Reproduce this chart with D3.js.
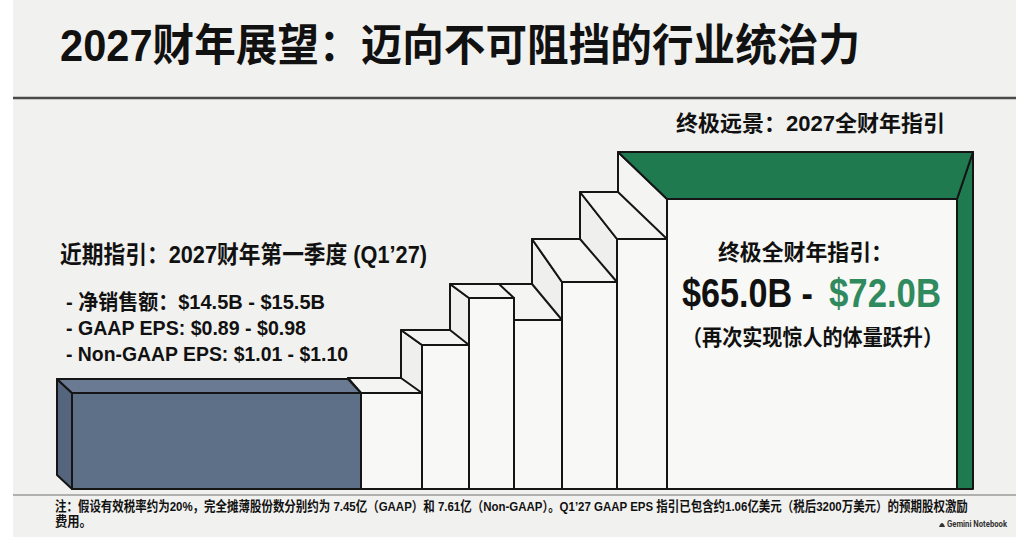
<!DOCTYPE html>
<html>
<head>
<meta charset="utf-8">
<script src="https://cdn.jsdelivr.net/npm/d3@7"></script>
<style>
  html, body { margin: 0; padding: 0; background: #fff; }
  svg { display: block; }
  text { font-family: "Liberation Sans", "Noto Sans CJK SC", sans-serif; font-weight: 700; fill: #111; }
</style>
</head>
<body>
<div id="chart"></div>
<script>
// Step chart data: one block per stage, height = relative level, span = relative width
const steps = ["Q1'27", "S1", "S2", "S3", "S4", "S5", "S6", "FY27"];
const stepLevel = [96, 96, 144, 191, 169, 207, 250, 290];
const stepSpan = [289, 61, 47, 45, 48, 55, 50, 290];

// Texts
const titleText = "2027财年展望：迈向不可阻挡的行业统治力";
const fyTitle = "终极远景：2027全财年指引";
const nearTitle = "近期指引：2027财年第一季度 (Q1’27)";
const nearLines = ["- 净销售额：$14.5B - $15.5B", "- GAAP EPS: $0.89 - $0.98", "- Non-GAAP EPS: $1.01 - $1.10"];
const fyLabel = "终极全财年指引：";
const fyRange = ["$65.0B", "$72.0B"];
const fyNote = "（再次实现惊人的体量跃升）";
const footLines = [
  "注：假设有效税率约为20%，完全摊薄股份数分别约为 7.45亿（GAAP）和 7.61亿（Non-GAAP）。Q1’27 GAAP EPS 指引已包含约1.06亿美元（税后3200万美元）的预期股权激励",
  "费用。"
];

const W = 1024, H = 546;
const BASE = 489;

// drawing style for the fake 3D depth (not data)
const EDGE_SHIFT = [15, 13, 21, 19, 15, 30, 37, 49, -16];
const DEPTH_Y = [14, 15, 15, 14, 36, 43, 47, 47];
const INK = "#151515";

const svg = d3.select("#chart").append("svg").attr("width", W).attr("height", H).attr("viewBox", `0 0 ${W} ${H}`);

// slide background
svg.append("rect").attr("x", 0).attr("y", 0).attr("width", W).attr("height", H).attr("fill", "#fff");
svg.append("rect").attr("x", 13).attr("y", 0).attr("width", 1003).attr("height", 537).attr("fill", "#f1f1ef");

svg.append("line").attr("x1", 13).attr("x2", 1016).attr("y1", 98).attr("y2", 98)
  .attr("stroke", "#4a4a4a").attr("stroke-width", 2.5);
svg.append("line").attr("x1", 13).attr("x2", 1016).attr("y1", 495).attr("y2", 495)
  .attr("stroke", "#9a9a9a").attr("stroke-width", 1.5);

// scales
const edges = [0, ...d3.cumsum(stepSpan)];
const x = d3.scaleLinear().domain([0, d3.sum(stepSpan)]).range([72, 957]);
const y = d3.scaleLinear().domain([0, 300]).range([BASE, BASE - 300]);

const data = steps.map((s, i) => {
  const xl = x(edges[i]), xr = x(edges[i + 1]);
  const top = y(stepLevel[i]), base = y(0), dy = DEPTH_Y[i];
  const bl = xl - EDGE_SHIFT[i], br = xr - EDGE_SHIFT[i + 1];
  return {key: s, i, xl, xr, top, base, dy, bl, br, bt: top - dy};
});

const last = steps.length - 1;
function fills(d) {
  if (d.i === 0) return {front: "#5e6f88", top: "#6a7a92", side: "#55657d"};
  if (d.i === last) return {front: "#f8f8f6", top: "#1f7a50", side: "#f4f4f2", right: "#1f7a50"};
  return {front: "#f8f8f6", top: "#f4f4f2", side: "#efefed"};
}
const poly = pts => "M" + pts.map(p => p.join(",")).join("L") + "Z";

// painted right-to-left so nearer (left) blocks hide the sides of the taller ones
const blocks = svg.append("g").selectAll("g.step")
  .data(data.slice().reverse(), d => d.key)
  .join("g").attr("class", "step")
  .attr("stroke", INK).attr("stroke-width", 2).attr("stroke-linejoin", "round");

blocks.append("path").attr("class", "side")
  .attr("d", d => poly([[d.bl, d.bt], [d.xl, d.top], [d.xl, d.base], [d.bl, d.base - d.dy]]))
  .attr("fill", d => fills(d).side);
blocks.filter(d => d.i === last).append("path").attr("class", "right")
  .attr("d", d => poly([[d.xr, d.top], [d.br, d.bt], [d.br, d.base], [d.xr, d.base]]))
  .attr("fill", d => fills(d).right);
blocks.append("path").attr("class", "top")
  .attr("d", d => poly([[d.bl, d.bt], [d.br, d.bt], [d.xr, d.top], [d.xl, d.top]]))
  .attr("fill", d => fills(d).top);
blocks.append("rect").attr("class", "front")
  .attr("x", d => d.xl).attr("y", d => d.top)
  .attr("width", d => d.xr - d.xl).attr("height", d => d.base - d.top)
  .attr("fill", d => fills(d).front);

// texts
function label(str, xPos, yPos, size, len, anchor = "start") {
  return svg.append("text").attr("x", xPos).attr("y", yPos)
    .attr("font-size", size).attr("text-anchor", anchor)
    .attr("textLength", len).attr("lengthAdjust", "spacingAndGlyphs")
    .text(str);
}

label(titleText, 60, 61, 44, 800);
label(fyTitle, 676, 131, 22, 269);
label(nearTitle, 60, 263, 24, 367);
const bulletY = [309, 335, 361], bulletLen = [259, 240, 282];
nearLines.forEach((t, i) => label(t, 66, bulletY[i], 21, bulletLen[i]));

label(fyLabel, 718, 260, 22, 175);
label(fyRange[0] + " -", 682, 307, 40, 131);
label(fyRange[1], 829, 307, 40, 112).style("fill", "#2f8a5e");
label(fyNote, 682, 345, 22, 261);

// footnote: squeeze horizontally with a transform so its box stays inside the slide
const foot = [{t: footLines[0], y: 511, len: 914}, {t: footLines[1], y: 526, len: 37}];
foot.forEach(f => {
  const t = svg.append("text").attr("font-size", 13.5).attr("font-weight", 500).text(f.t);
  const nat = t.node().getComputedTextLength();
  t.attr("transform", `translate(55,${f.y}) scale(${f.len / nat},1)`);
});

// watermark
svg.append("path").attr("d", "M939,527 Q942,519 945,527 Z").attr("fill", "#333");
svg.append("text").attr("x", 947).attr("y", 527).attr("font-size", 9).attr("font-weight", 400)
  .style("fill", "#333").style("font-family", "Roboto, sans-serif")
  .attr("textLength", 60).attr("lengthAdjust", "spacingAndGlyphs").text("Gemini Notebook");
</script>
</body>
</html>
